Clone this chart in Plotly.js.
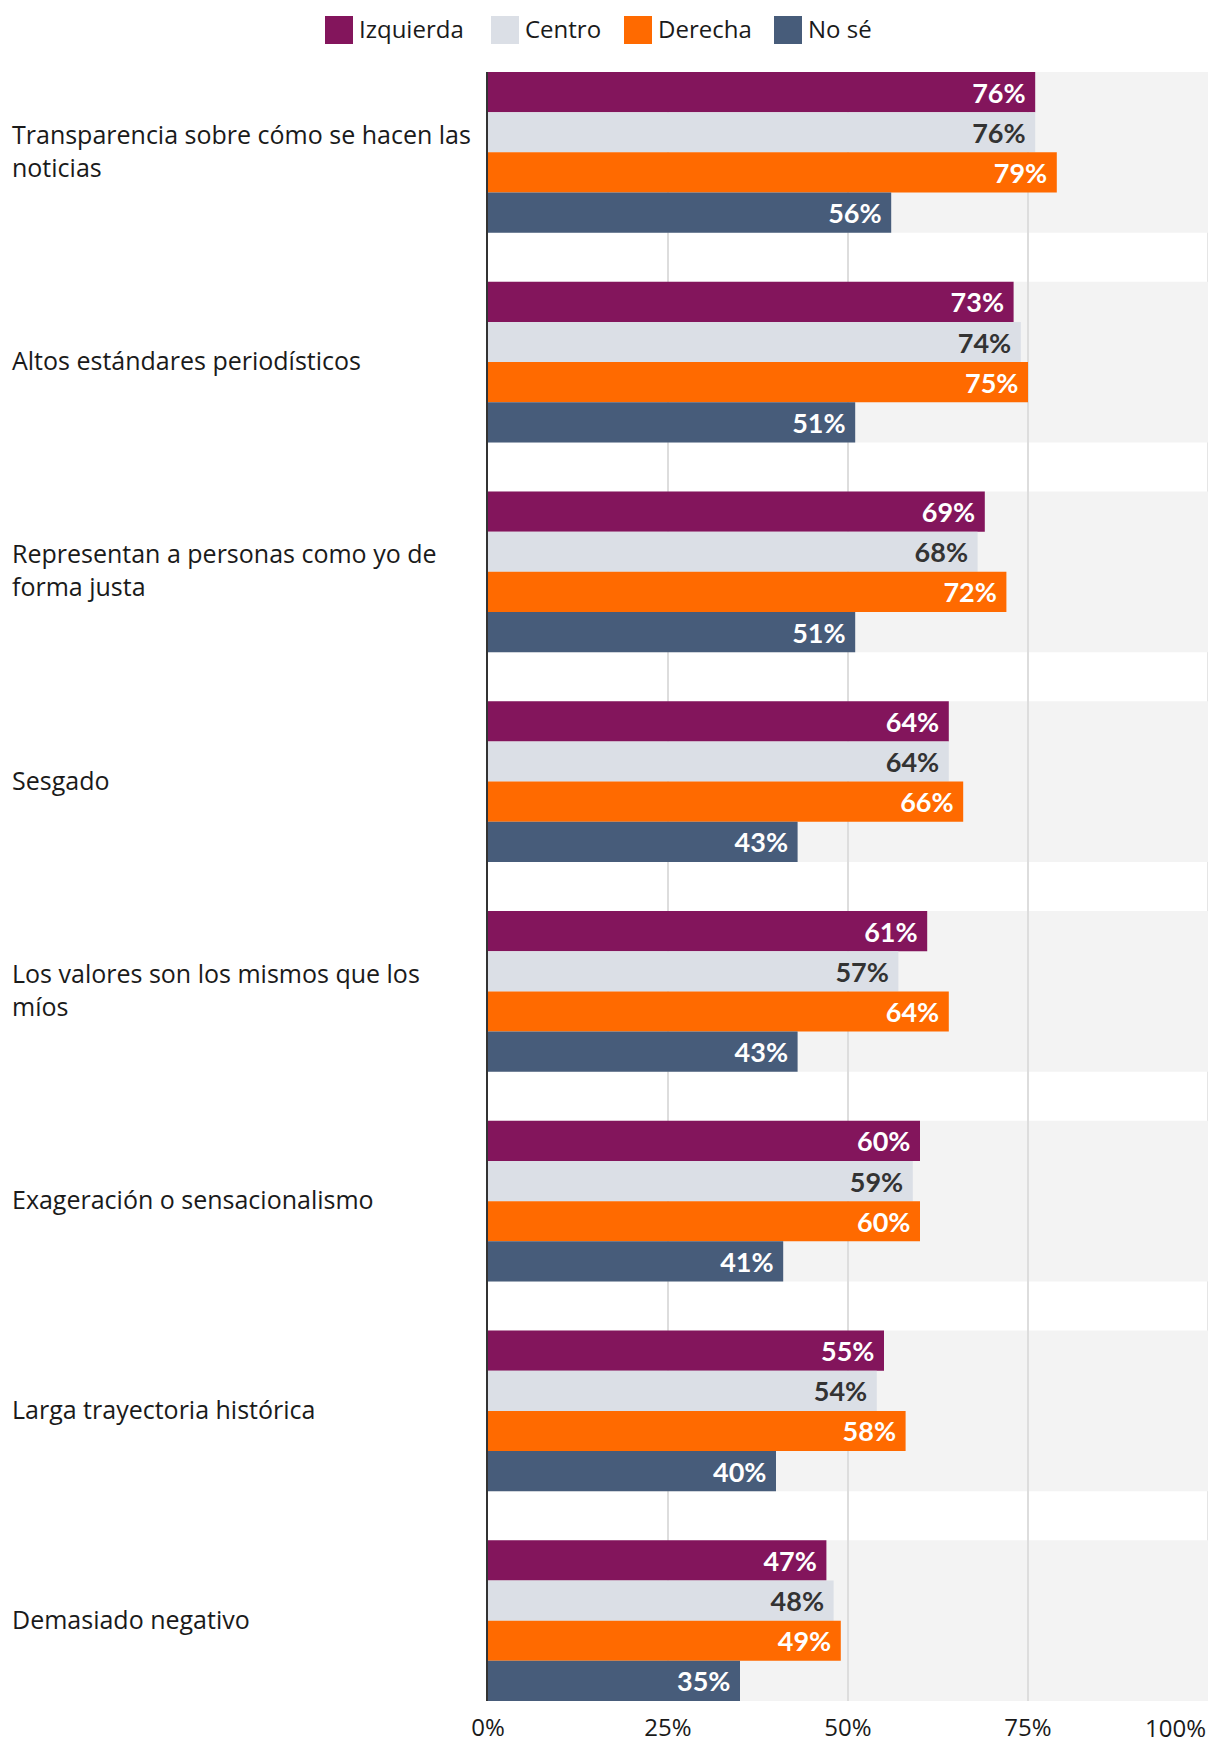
<!DOCTYPE html>
<html><head><meta charset="utf-8">
<script src="https://cdn.plot.ly/plotly-3.0.1.min.js"></script>
<style>body{margin:0;background:#fff}</style>
</head><body><div id="chart" style="width:1220px;height:1754px"></div>
<script>
// ---- data ----
const categories = [
  'Transparencia sobre cómo se hacen las noticias',
  'Altos estándares periodísticos',
  'Representan a personas como yo de forma justa',
  'Sesgado',
  'Los valores son los mismos que los míos',
  'Exageración o sensacionalismo',
  'Larga trayectoria histórica',
  'Demasiado negativo'
];
const seriesNames = ['Izquierda', 'Centro', 'Derecha', 'No sé'];
const izquierda = [76, 73, 69, 64, 61, 60, 55, 47];
const centro    = [76, 74, 68, 64, 57, 59, 54, 48];
const derecha   = [79, 75, 72, 66, 64, 60, 58, 49];
const noSe      = [56, 51, 51, 43, 43, 41, 40, 35];
const tickVals   = [0, 25, 50, 75, 100];
const tickLabels = ['0%', '25%', '50%', '75%', '100%'];

// ---- style ----
const colors = ['#83155C', '#DBDFE6', '#FF6A00', '#475C7A'];
const labelColors = ['#FFFFFF', '#333333', '#FFFFFF', '#FFFFFF'];
const FONT = '"Open Sans", Roboto, sans-serif';
const W = 1220, H = 1754;
const M = {l: 488, r: 12, t: 72, b: 53};
const pw = W - M.l - M.r, ph = H - M.t - M.b;
const px2x = p => (p - M.l) / pw;
const px2y = p => (H - M.b - p) / ph;

const allSeries = [izquierda, centro, derecha, noSe];
const bargap = 0.234;
const half = (1 - bargap) / 2;

function wrap(s, n) {
  const words = s.split(' '); const lines = []; let cur = '';
  words.forEach(w => {
    if ((cur + ' ' + w).trim().length > n) { lines.push(cur); cur = w; }
    else cur = (cur + ' ' + w).trim();
  });
  lines.push(cur); return lines.join('<br>');
}

const traces = allSeries.map((vals, i) => ({
  type: 'bar', orientation: 'h', name: seriesNames[i],
  x: vals, y: categories,
  marker: {color: colors[i], line: {width: 0}},
  text: vals.map(v => v + '%\u00a0'), textinfo: 'text', texttemplate: null,
  textposition: 'inside', insidetextanchor: 'end',
  textangle: 0, constraintext: 'none',
  textfont: {family: 'Lato, Roboto, sans-serif', size: 27, color: labelColors[i], weight: 'bold', style: 'normal'},
  hoverinfo: 'skip', showlegend: false
}));

const shapes = [];
const annotations = [];
categories.forEach((c, i) => {
  shapes.push({type: 'rect', layer: 'below', xref: 'x', yref: 'y',
    x0: 0, x1: 100, y0: i - half, y1: i + half,
    fillcolor: '#F3F3F3', line: {width: 0}});
  annotations.push({xref: 'paper', yref: 'y', x: px2x(10), y: c, yshift: 2,
    xanchor: 'left', yanchor: 'middle', align: 'left', showarrow: false,
    text: wrap(c, 37), font: {family: FONT, size: 25, color: '#1a1a1a'}});
});
// right-edge gridline at 100%
shapes.push({type: 'line', layer: 'below', xref: 'x', yref: 'paper',
  x0: tickVals[4], x1: tickVals[4], y0: 0, y1: 1, line: {color: '#DDDDDD', width: 1.5}});

// last tick label kept inside the page
annotations.push({xref: 'x', yref: 'paper', x: tickVals[4], y: 0, xanchor: 'right', yanchor: 'top',
  yshift: -8, showarrow: false, text: tickLabels[4], font: {family: FONT, size: 24, color: '#1a1a1a'}});

// legend
const legX = [325, 491, 624, 774];
seriesNames.forEach((n, i) => {
  shapes.push({type: 'rect', xref: 'paper', yref: 'paper',
    x0: px2x(legX[i]), x1: px2x(legX[i] + 28), y0: px2y(44), y1: px2y(16),
    fillcolor: colors[i], line: {width: 0}});
  annotations.push({xref: 'paper', yref: 'paper', x: px2x(legX[i] + 32), y: px2y(28),
    xanchor: 'left', yanchor: 'middle', showarrow: false, text: n,
    font: {family: FONT, size: 24, color: '#1a1a1a'}});
});

const layout = {
  width: W, height: H, margin: M,
  paper_bgcolor: '#fff', plot_bgcolor: '#fff',
  barmode: 'group', bargap: bargap, bargroupgap: 0,
  showlegend: false,
  font: {family: FONT, size: 24, color: '#1a1a1a'},
  xaxis: {range: [0, 100], tickvals: tickVals, ticktext: tickLabels.slice(0, 4).concat(['']),
    showgrid: true, gridcolor: '#DDDDDD', gridwidth: 1.5, zeroline: false, showline: false,
    ticks: '', ticklabelstandoff: 10, tickfont: {family: FONT, size: 24, color: '#1a1a1a'}, fixedrange: true},
  yaxis: {type: 'category', categoryarray: categories, categoryorder: 'array',
    range: [categories.length - 1 + half, -half], showticklabels: false,
    showgrid: false, zeroline: false, showline: true, linecolor: '#333', linewidth: 2,
    ticks: '', fixedrange: true},
  shapes: shapes, annotations: annotations
};

Plotly.newPlot('chart', traces, layout, {displayModeBar: false, staticPlot: true});
</script></body></html>
